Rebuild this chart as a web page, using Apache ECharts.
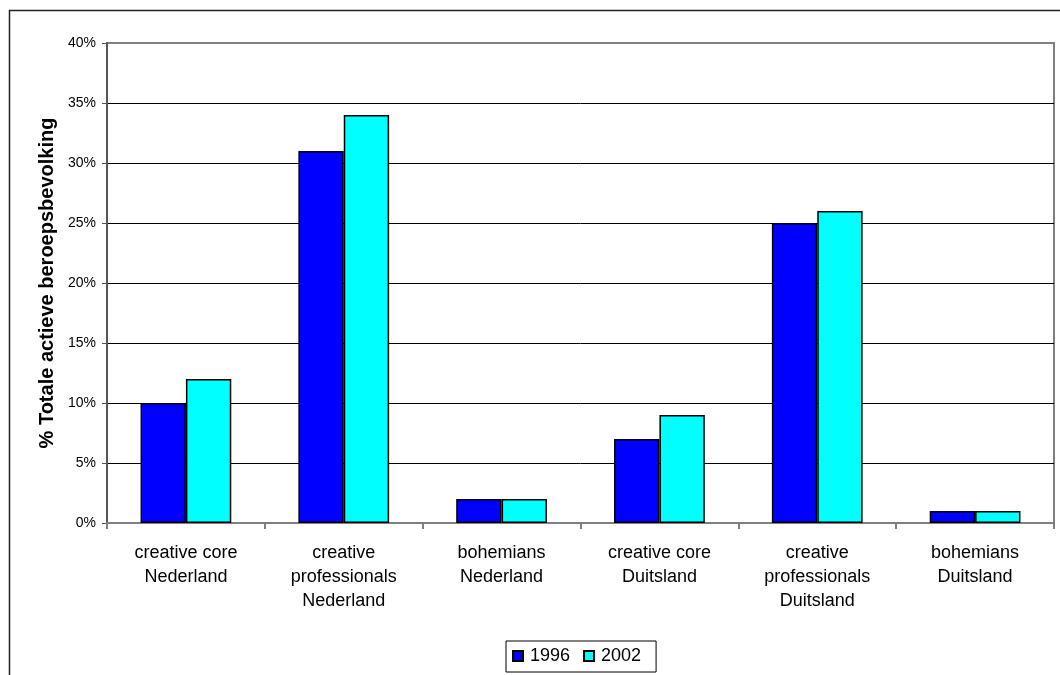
<!DOCTYPE html>
<html>
<head>
<meta charset="utf-8">
<style>
  html, body { margin: 0; padding: 0; background: #fff; }
  #chart { width: 1060px; height: 675px; }
</style>
<script src="https://cdn.jsdelivr.net/npm/echarts@6/dist/echarts.min.js"></script>
</head>
<body>
<div id="chart"></div>
<script>
// Share of the total active labour force per creative group, NL vs DE
const categories = [
  'creative core\nNederland',
  'creative\nprofessionals\nNederland',
  'bohemians\nNederland',
  'creative core\nDuitsland',
  'creative\nprofessionals\nDuitsland',
  'bohemians\nDuitsland'
];
const values1996 = [10, 31, 2, 7, 25, 1];
const values2002 = [12, 34, 2, 9, 26, 1];
const seriesNames = ['1996', '2002'];
const yAxisTitle = '% Totale actieve beroepsbevolking';

const FONT = '"Liberation Sans", Arial, sans-serif';

const chart = echarts.init(document.getElementById('chart'), null, { renderer: 'canvas' });

chart.setOption({
  animation: false,
  backgroundColor: '#ffffff',
  graphic: [{
    type: 'rect',
    silent: true,
    z: 100,
    shape: { x: 9.5, y: 10.5, width: 1200, height: 800 },
    style: { fill: 'none', stroke: '#222', lineWidth: 1.5 }
  }],
  grid: {
    left: 107, top: 43, right: 6, bottom: 152,
    show: true,
    borderColor: '#808080',
    borderWidth: 2,
    backgroundColor: 'transparent'
  },
  legend: {
    data: seriesNames,
    left: 506,
    top: 641,
    orient: 'horizontal',
    padding: [6, 15, 7, 6],
    itemGap: 13,
    itemWidth: 10,
    itemHeight: 10,
    borderColor: '#000',
    borderWidth: 1,
    icon: 'rect',
    textStyle: { fontFamily: FONT, fontSize: 18, color: '#000', padding: [0, 0, 0, 2] }
  },
  xAxis: {
    type: 'category',
    data: categories,
    axisLine: { show: true, lineStyle: { color: '#808080', width: 2 } },
    axisTick: { show: true, length: 6, alignWithLabel: false, lineStyle: { color: '#808080', width: 2 } },
    axisLabel: {
      interval: 0,
      margin: 18,
      fontFamily: FONT,
      fontSize: 18,
      lineHeight: 24,
      color: '#000',
      align: 'center'
    },
    splitLine: { show: false }
  },
  yAxis: {
    type: 'value',
    min: 0,
    max: 40,
    interval: 5,
    name: yAxisTitle,
    nameLocation: 'middle',
    nameGap: 50,
    nameRotate: 90,
    nameTextStyle: { fontFamily: FONT, fontSize: 20, fontWeight: 'bold', color: '#000' },
    axisLine: { show: true, lineStyle: { color: '#555', width: 2 } },
    axisTick: { show: true, length: 5, lineStyle: { color: '#555', width: 1 } },
    axisLabel: {
      margin: 11,
      fontFamily: FONT,
      fontSize: 14,
      color: '#000',
      formatter: v => v + '%'
    },
    splitLine: { show: true, showMaxLine: false, lineStyle: { color: '#000', width: 1 } }
  },
  series: [
    {
      name: seriesNames[0],
      type: 'bar',
      data: values1996,
      barGap: '0%',
      barCategoryGap: '42.5%',
      itemStyle: { color: '#0000FF', borderColor: '#000', borderWidth: 1.5 }
    },
    {
      name: seriesNames[1],
      type: 'bar',
      data: values2002,
      barGap: '0%',
      barCategoryGap: '42.5%',
      itemStyle: { color: '#00FFFF', borderColor: '#000', borderWidth: 1.5 }
    }
  ]
});
</script>
</body>
</html>
